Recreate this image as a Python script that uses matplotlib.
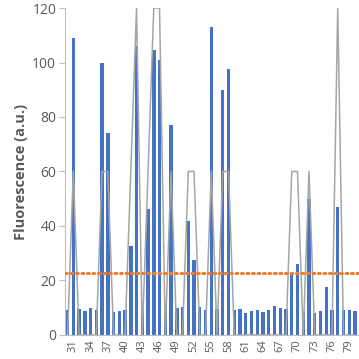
import numpy as np
import matplotlib
matplotlib.use("Agg")
import matplotlib.pyplot as plt

plt.rcParams['font.family'] = ['Open Sans', 'DejaVu Sans']

# sample numbers along the x axis
samples = list(range(30, 81))

# measured fluorescence (bars)
fluorescence = [9.2, 109, 9.5, 8.9, 9.9, 9.2, 100, 74, 8.6, 8.8,
                9.2, 32.7, 106, 9.9, 46.2, 104.6, 101, 9.5, 77, 9.8,
                10.1, 42, 27.5, 10.3, 9.3, 113, 9.6, 90, 97.5, 9.2,
                9.5, 8.2, 8.8, 9.2, 8.4, 9.2, 10.5, 9.9, 9.5, 22.7,
                26.2, 8.8, 50, 8, 8.8, 17.7, 9.2, 46.9, 9.2, 9.2,
                8.8]

# call score (grey line)
score = [0, 60, 0, 0, 0, 0, 60, 60, 0, 0,
         0, 60, 120, 0, 60, 120, 120, 0, 60, 0,
         0, 60, 60, 0, 0, 60, 0, 60, 60, 0,
         0, 0, 0, 0, 0, 0, 0, 0, 0, 60,
         60, 0, 60, 0, 0, 0, 0, 120, 0, 0,
         0]

threshold = 22.7
tick_samples = list(range(31, 80, 3))

fig = plt.figure(figsize=(3.59, 3.59), dpi=100)
ax = fig.add_axes([0.1797, 0.0669, 0.8203, 0.9108])

grey = '#595959'
ax.bar(samples, fluorescence, width=0.6, color='#4472C4', zorder=2)
ax.plot(samples, score, color='#A5A5A5', lw=1.1, zorder=3)
ax.axhline(threshold, color='#ED7D31', lw=2.2, ls=(0, (0.6, 1.2)),
           dash_capstyle='round', zorder=4)

ax.set_xlim(29.47, 80.7)
ax.set_ylim(0, 120)
ax.set_yticks(range(0, 121, 20))
ax.set_xticks(tick_samples)
ax.set_xticklabels([str(s) for s in tick_samples], rotation=90)

for side in ['top', 'right']:
    ax.spines[side].set_visible(False)
for side in ['left', 'bottom']:
    ax.spines[side].set_color('#BFBFBF')
    ax.spines[side].set_linewidth(0.8)

ax.tick_params(axis='y', colors='#BFBFBF', labelcolor=grey, labelsize=10,
               length=4, width=0.8, pad=2)
ax.tick_params(axis='x', colors='#BFBFBF', labelcolor=grey, labelsize=8,
               length=0, pad=3)

ax.set_ylabel('Fluorescence (a.u.)', color=grey, fontsize=10.5,
              fontweight='bold')
ax.yaxis.set_label_coords(-0.125, 0.5)

fig.savefig('out.png', dpi=100)
